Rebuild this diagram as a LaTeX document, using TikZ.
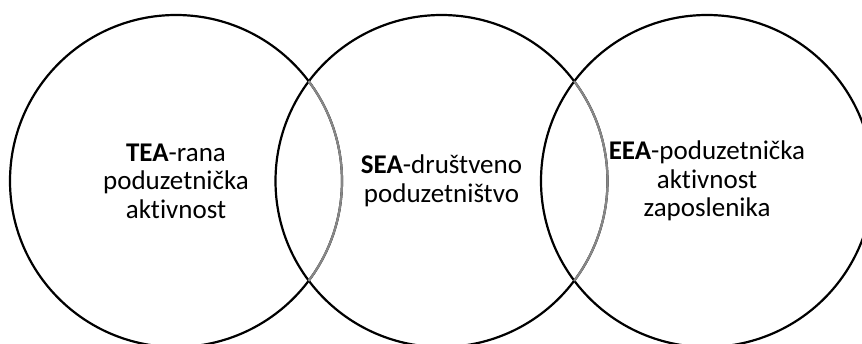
\documentclass[tikz,border=0pt]{standalone}
\usepackage{fontspec}
\setmainfont[Ligatures=NoCommon]{Carlito}
\definecolor{arcgray}{RGB}{135,135,135}
\tikzset{
  ring/.style={circle, draw=black, line width=2.2pt, minimum size=332pt, inner sep=0pt, outer sep=0pt,
    align=center, font=\fontsize{27}{28.5}\selectfont, text=black},
  grayarc/.style={draw=arcgray, line width=2.2pt}
}
\begin{document}
\begin{tikzpicture}[x=1pt,y=1pt]
\useasboundingbox (0,0) rectangle (862,343);
\fill[white] (0,0) rectangle (862,343);
\clip (0,0) rectangle (862,343);
\node[ring] (tea) at (176,162) {\textbf{TEA}-rana\\poduzetnička\\aktivnost};
\node[ring] (sea) at (441.5,162) {\textbf{SEA}-društveno\\poduzetništvo};
\node[ring] (eea) at (707,162) {\textbf{EEA}-poduzetnička\\aktivnost\\zaposlenika};
\draw[grayarc] ([shift={(37:166)}]tea.center) arc[start angle=37, end angle=-37, radius=166];
\draw[grayarc] ([shift={(37:166)}]sea.center) arc[start angle=37, end angle=-37, radius=166];
\end{tikzpicture}
\end{document}
